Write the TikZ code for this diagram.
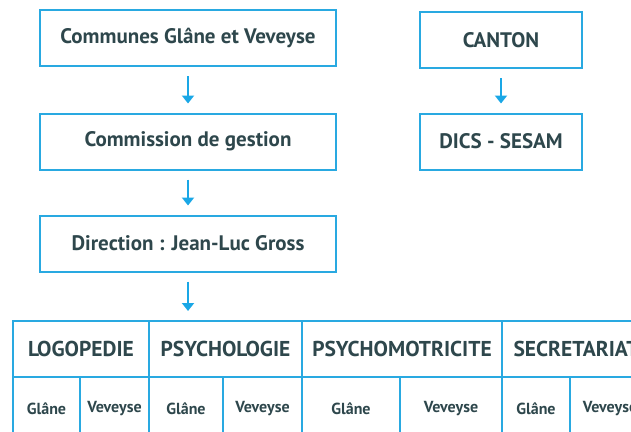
\documentclass[tikz,border=0pt]{standalone}
\usepackage{fontspec}
\setmainfont{PT Sans}
\usetikzlibrary{arrows.meta}
\definecolor{frame}{HTML}{29A9E1}
\definecolor{ink}{HTML}{2E474C}
\definecolor{arr}{HTML}{1AA7E6}
\begin{document}
\begin{tikzpicture}[x=1pt,y=-1pt,
  box/.style={draw=frame, line width=2pt, minimum height=56pt, inner sep=0pt,
    font=\bfseries\fontsize{21}{24}\selectfont, text=ink},
  wide/.style={box, minimum width=296pt},
  narrow/.style={box, minimum width=162pt},
  head/.style={draw=frame, line width=2pt, anchor=north west, minimum height=56pt, inner sep=0pt,
    font=\bfseries\fontsize{21.5}{24}\selectfont, text=ink},
  sub/.style={draw=frame, line width=2pt, anchor=north west, minimum height=64pt, inner sep=0pt,
    font=\bfseries\fontsize{16}{18}\selectfont, text=ink},
  link/.style={draw=arr, line width=2.8pt, -{Triangle[width=12pt,length=8pt]}, shorten <=9pt, shorten >=9pt}
]
\useasboundingbox (0,0) rectangle (631,431);
\clip (0,0) rectangle (631,431);

\node[wide] (com) at (188,38) {Communes Glâne et Veveyse};
\node[wide] (cg) at (188,141.5) {Commission de gestion};
\node[wide] (dir) at (188,243.5) {Direction : Jean-Luc Gross};
\node[narrow] (can) at (501,40) {CANTON};
\node[narrow] (dics) at (501,141.5) {DICS - SESAM};

\node[head, minimum width=136pt] (logo) at (12,320) {LOGOPEDIE};
\node[head, minimum width=153pt] (psy) at (148,320) {PSYCHOLOGIE};
\node[head, minimum width=200pt] (pm) at (301,320) {PSYCHOMOTRICITE};
\node[head, minimum width=148pt] (sec) at (501,320) {SECRETARIAT};

\node[sub, minimum width=67pt] (lg) at (12,376) {Glâne};
\node[sub, minimum width=69pt] (lv) at (79,376) {Veveyse};
\node[sub, minimum width=74pt] (pg) at (148,376) {Glâne};
\node[sub, minimum width=79pt] (pv) at (222,376) {Veveyse};
\node[sub, minimum width=98pt] (mg) at (301,376) {Glâne};
\node[sub, minimum width=102pt] (mv) at (399,376) {Veveyse};
\node[sub, minimum width=68pt] (sg) at (501,376) {Glâne};
\node[sub, minimum width=80pt] (sv) at (569,376) {Veveyse};

\draw[link] (com) -- (cg);
\draw[link] (cg) -- (dir);
\draw[link] (can) -- (dics);
\draw[link] (dir.south) -- (dir.south |- psy.north);
\end{tikzpicture}
\end{document}
